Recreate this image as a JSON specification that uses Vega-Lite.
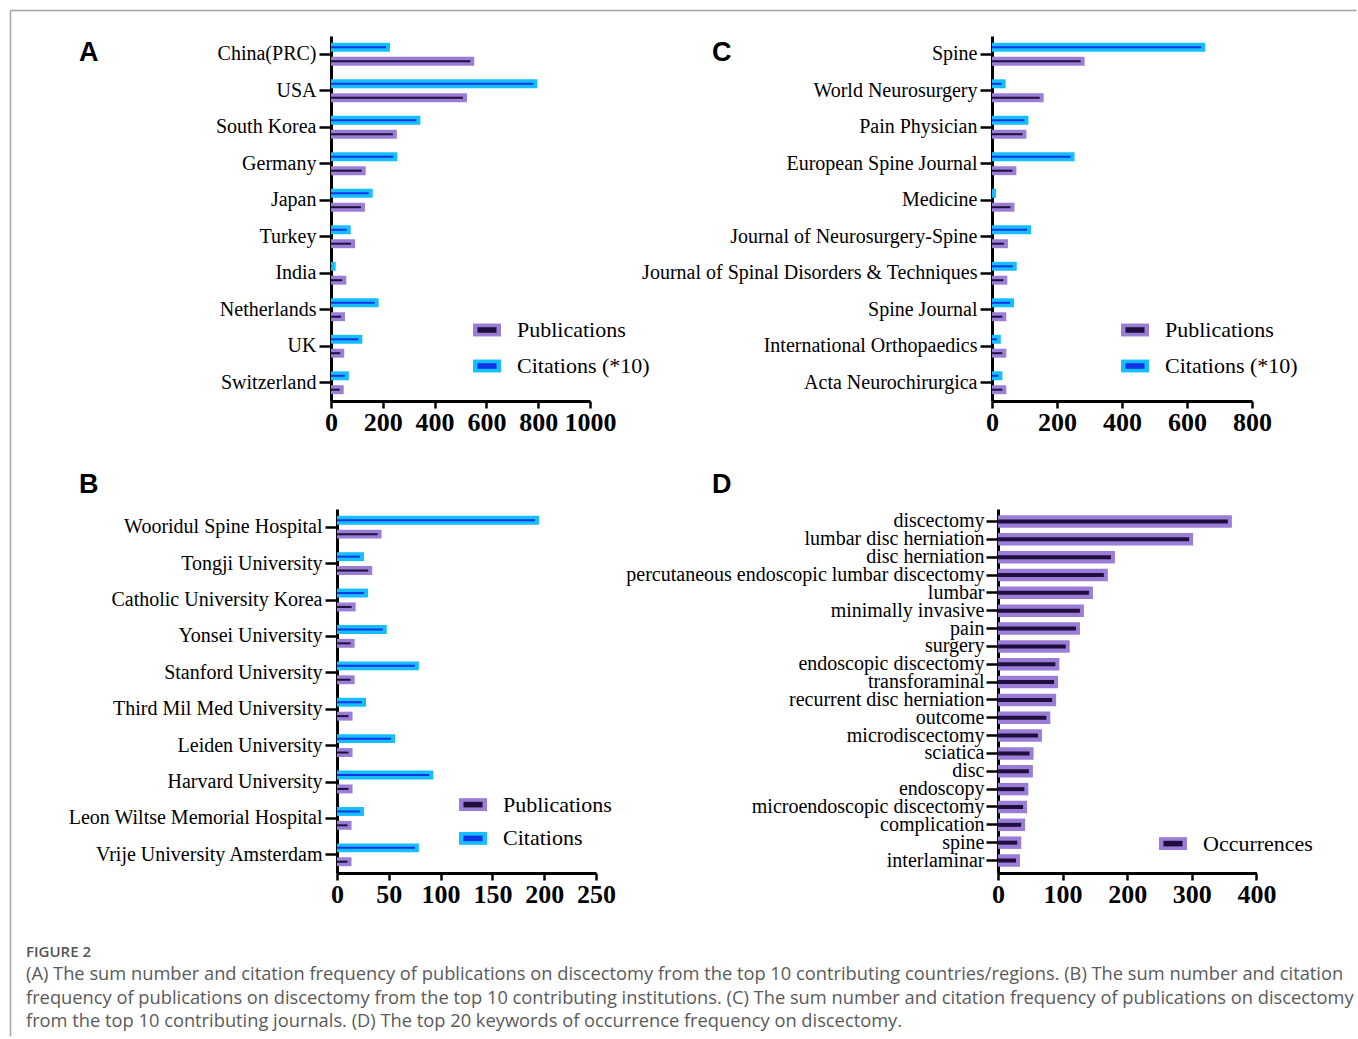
{
 "$schema": "https://vega.github.io/schema/vega-lite/v6.json",
 "padding": {"left": 10, "top": 10, "right": 0, "bottom": 0},
 "background": "white",
 "title": {"text": "FIGURE 2", "subtitle": ["(A) The sum number and citation frequency of publications on discectomy from the top 10 contributing countries/regions. (B) The sum number and citation", "frequency of publications on discectomy from the top 10 contributing institutions. (C) The sum number and citation frequency of publications on discectomy", "from the top 10 contributing journals. (D) The top 20 keywords of occurrence frequency on discectomy."], "orient": "bottom", "anchor": "start", "frame": "group", "dx": -305, "offset": -117, "font": "Open Sans", "fontSize": 15, "fontWeight": 600, "color": "#555555", "baseline": "top", "subtitleFont": "Open Sans", "subtitleFontSize": 18.3, "subtitleFontWeight": 400, "subtitleColor": "#5a5a5a", "subtitleLineHeight": 23.5, "subtitlePadding": 6},
 "datasets": {
  "countries": [
   {"cat": "China(PRC)", "series": "Publications", "value": 553}, {"cat": "China(PRC)", "series": "Citations (*10)", "value": 228},
   {"cat": "USA", "series": "Publications", "value": 525}, {"cat": "USA", "series": "Citations (*10)", "value": 797},
   {"cat": "South Korea", "series": "Publications", "value": 254}, {"cat": "South Korea", "series": "Citations (*10)", "value": 345},
   {"cat": "Germany", "series": "Publications", "value": 134}, {"cat": "Germany", "series": "Citations (*10)", "value": 256},
   {"cat": "Japan", "series": "Publications", "value": 131}, {"cat": "Japan", "series": "Citations (*10)", "value": 161},
   {"cat": "Turkey", "series": "Publications", "value": 93}, {"cat": "Turkey", "series": "Citations (*10)", "value": 76},
   {"cat": "India", "series": "Publications", "value": 59}, {"cat": "India", "series": "Citations (*10)", "value": 18},
   {"cat": "Netherlands", "series": "Publications", "value": 54}, {"cat": "Netherlands", "series": "Citations (*10)", "value": 184},
   {"cat": "UK", "series": "Publications", "value": 51}, {"cat": "UK", "series": "Citations (*10)", "value": 121},
   {"cat": "Switzerland", "series": "Publications", "value": 49}, {"cat": "Switzerland", "series": "Citations (*10)", "value": 69}
  ],
  "journals": [
   {"cat": "Spine", "series": "Publications", "value": 285}, {"cat": "Spine", "series": "Citations (*10)", "value": 656},
   {"cat": "World Neurosurgery", "series": "Publications", "value": 159}, {"cat": "World Neurosurgery", "series": "Citations (*10)", "value": 42},
   {"cat": "Pain Physician", "series": "Publications", "value": 106}, {"cat": "Pain Physician", "series": "Citations (*10)", "value": 112},
   {"cat": "European Spine Journal", "series": "Publications", "value": 75}, {"cat": "European Spine Journal", "series": "Citations (*10)", "value": 254},
   {"cat": "Medicine", "series": "Publications", "value": 69}, {"cat": "Medicine", "series": "Citations (*10)", "value": 12},
   {"cat": "Journal of Neurosurgery-Spine", "series": "Publications", "value": 49}, {"cat": "Journal of Neurosurgery-Spine", "series": "Citations (*10)", "value": 120},
   {"cat": "Journal of Spinal Disorders & Techniques", "series": "Publications", "value": 47}, {"cat": "Journal of Spinal Disorders & Techniques", "series": "Citations (*10)", "value": 76},
   {"cat": "Spine Journal", "series": "Publications", "value": 44}, {"cat": "Spine Journal", "series": "Citations (*10)", "value": 68},
   {"cat": "International Orthopaedics", "series": "Publications", "value": 44}, {"cat": "International Orthopaedics", "series": "Citations (*10)", "value": 27},
   {"cat": "Acta Neurochirurgica", "series": "Publications", "value": 44}, {"cat": "Acta Neurochirurgica", "series": "Citations (*10)", "value": 32}
  ],
  "institutions": [
   {"cat": "Wooridul Spine Hospital", "series": "Publications", "value": 43}, {"cat": "Wooridul Spine Hospital", "series": "Citations", "value": 195},
   {"cat": "Tongji University", "series": "Publications", "value": 34}, {"cat": "Tongji University", "series": "Citations", "value": 26},
   {"cat": "Catholic University Korea", "series": "Publications", "value": 18}, {"cat": "Catholic University Korea", "series": "Citations", "value": 30},
   {"cat": "Yonsei University", "series": "Publications", "value": 17}, {"cat": "Yonsei University", "series": "Citations", "value": 48},
   {"cat": "Stanford University", "series": "Publications", "value": 17}, {"cat": "Stanford University", "series": "Citations", "value": 79},
   {"cat": "Third Mil Med University", "series": "Publications", "value": 15}, {"cat": "Third Mil Med University", "series": "Citations", "value": 28},
   {"cat": "Leiden University", "series": "Publications", "value": 15}, {"cat": "Leiden University", "series": "Citations", "value": 56},
   {"cat": "Harvard University", "series": "Publications", "value": 15}, {"cat": "Harvard University", "series": "Citations", "value": 93},
   {"cat": "Leon Wiltse Memorial Hospital", "series": "Publications", "value": 14}, {"cat": "Leon Wiltse Memorial Hospital", "series": "Citations", "value": 26},
   {"cat": "Vrije University Amsterdam", "series": "Publications", "value": 14}, {"cat": "Vrije University Amsterdam", "series": "Citations", "value": 79}
  ],
  "keywords": [
   {"cat": "discectomy", "series": "Occurrences", "value": 362},
   {"cat": "lumbar disc herniation", "series": "Occurrences", "value": 302},
   {"cat": "disc herniation", "series": "Occurrences", "value": 181},
   {"cat": "percutaneous endoscopic lumbar discectomy", "series": "Occurrences", "value": 170},
   {"cat": "lumbar", "series": "Occurrences", "value": 147},
   {"cat": "minimally invasive", "series": "Occurrences", "value": 133},
   {"cat": "pain", "series": "Occurrences", "value": 127},
   {"cat": "surgery", "series": "Occurrences", "value": 111},
   {"cat": "endoscopic discectomy", "series": "Occurrences", "value": 95},
   {"cat": "transforaminal", "series": "Occurrences", "value": 93},
   {"cat": "recurrent disc herniation", "series": "Occurrences", "value": 90},
   {"cat": "outcome", "series": "Occurrences", "value": 81},
   {"cat": "microdiscectomy", "series": "Occurrences", "value": 68},
   {"cat": "sciatica", "series": "Occurrences", "value": 55},
   {"cat": "disc", "series": "Occurrences", "value": 54},
   {"cat": "endoscopy", "series": "Occurrences", "value": 47},
   {"cat": "microendoscopic discectomy", "series": "Occurrences", "value": 45},
   {"cat": "complication", "series": "Occurrences", "value": 42},
   {"cat": "spine", "series": "Occurrences", "value": 36},
   {"cat": "interlaminar", "series": "Occurrences", "value": 34}
  ]
 },
 "columns": 2,
 "spacing": {"row": 108, "column": 396},
 "bounds": "flush",
 "resolve": {"scale": {"x": "independent", "y": "independent", "color": "independent", "yOffset": "independent"}, "legend": {"color": "independent"}},
 "concat": [
  {
   "width": 259, "height": 365,
   "title": {"text": "A", "dx": -252, "dy": 60.5},
   "data": {"name": "countries"},
   "resolve": {"scale": {"x": "independent", "y": "independent"}},
   "layer": [
    {
     "encoding": {
      "y": {"field": "cat", "type": "nominal", "sort": null, "scale": {"paddingInner": 0, "paddingOuter": -0.04}, "axis": {"title": null}},
      "yOffset": {"field": "series", "type": "nominal", "sort": ["Citations (*10)", "Publications"], "scale": {"paddingInner": 0.357, "paddingOuter": 0.49}},
      "x": {"field": "value", "type": "quantitative", "stack": null, "scale": {"domain": [0, 1000], "nice": false}, "axis": {"title": null, "format": "d", "values": [0, 200, 400, 600, 800, 1000]}},
      "x2": {"datum": 0}
     },
     "resolve": {"scale": {"color": "independent"}, "legend": {"color": "independent"}},
     "layer": [
      {"mark": {"type": "bar"},
       "encoding": {"color": {"field": "series", "type": "nominal", "scale": {"domain": ["Publications", "Citations (*10)"], "range": ["#9b7dd7", "#14beff"]},
        "legend": {"orient": "none", "legendX": 142, "legendY": 280, "rowPadding": 11, "symbolType": "M-1,-0.46H1V0.46H-1Z"}}}},
      {"mark": {"type": "bar", "height": 2, "xOffset": -4},
       "encoding": {"color": {"field": "series", "type": "nominal", "scale": {"domain": ["Publications", "Citations (*10)"], "range": ["#1e0f3c", "#1432e6"]},
        "legend": {"orient": "none", "legendX": 142, "legendY": 280, "rowPadding": 11, "symbolType": "M-0.68,-0.2H0.68V0.2H-0.68Z", "labelExpr": "''"}}}}
     ]
    },
    {
     "data": {"values": []},
     "mark": {"type": "point"},
     "encoding": {
      "x": {"field": "bx", "type": "quantitative", "scale": {"domain": [0, 1], "range": [-321, 1025]}, "axis": {"orient": "top", "offset": 26, "ticks": false, "labels": false, "grid": false, "title": null, "domainColor": "#a3a3a3", "domainWidth": 1.5}},
      "y": {"field": "by", "type": "quantitative", "scale": {"domain": [0, 1], "range": [1000, -26]}, "axis": {"orient": "right", "offset": -580, "ticks": false, "labels": false, "grid": false, "title": null, "domainColor": "#a3a3a3", "domainWidth": 1.5}}
     }
    }
   ]
  },
  {
   "width": 260, "height": 365,
   "title": {"text": "C", "dx": -280, "dy": 34.5},
   "data": {"name": "journals"},
   "encoding": {
    "y": {"field": "cat", "type": "nominal", "sort": null, "scale": {"paddingInner": 0, "paddingOuter": -0.04}, "axis": {"title": null}},
    "yOffset": {"field": "series", "type": "nominal", "sort": ["Citations (*10)", "Publications"], "scale": {"paddingInner": 0.357, "paddingOuter": 0.49}},
    "x": {"field": "value", "type": "quantitative", "stack": null, "scale": {"domain": [0, 800], "nice": false}, "axis": {"title": null, "format": "d", "values": [0, 200, 400, 600, 800]}},
    "x2": {"datum": 0}
   },
   "resolve": {"scale": {"color": "independent"}, "legend": {"color": "independent"}},
   "layer": [
    {"mark": {"type": "bar"},
     "encoding": {"color": {"field": "series", "type": "nominal", "scale": {"domain": ["Publications", "Citations (*10)"], "range": ["#9b7dd7", "#14beff"]},
      "legend": {"orient": "none", "legendX": 129, "legendY": 280, "rowPadding": 11, "symbolType": "M-1,-0.46H1V0.46H-1Z"}}}},
    {"mark": {"type": "bar", "height": 2, "xOffset": -4},
     "encoding": {"color": {"field": "series", "type": "nominal", "scale": {"domain": ["Publications", "Citations (*10)"], "range": ["#1e0f3c", "#1432e6"]},
      "legend": {"orient": "none", "legendX": 129, "legendY": 280, "rowPadding": 11, "symbolType": "M-0.68,-0.2H0.68V0.2H-0.68Z", "labelExpr": "''"}}}}
   ]
  },
  {
   "width": 265, "height": 364,
   "title": {"text": "B", "dx": -252, "dy": -6},
   "data": {"name": "institutions"},
   "encoding": {
    "y": {"field": "cat", "type": "nominal", "sort": null, "scale": {"paddingInner": 0, "paddingOuter": -0.05}, "axis": {"title": null, "offset": -6}},
    "yOffset": {"field": "series", "type": "nominal", "sort": ["Citations", "Publications"], "scale": {"paddingInner": 0.357, "paddingOuter": 0.49}},
    "x": {"field": "value", "type": "quantitative", "stack": null, "scale": {"domain": [0, 250], "nice": false, "range": [6, 265]}, "axis": {"title": null, "format": "d", "values": [0, 50, 100, 150, 200, 250]}},
    "x2": {"datum": 0}
   },
   "resolve": {"scale": {"color": "independent"}, "legend": {"color": "independent"}},
   "layer": [
    {"mark": {"type": "bar"},
     "encoding": {"color": {"field": "series", "type": "nominal", "scale": {"domain": ["Publications", "Citations"], "range": ["#9b7dd7", "#14beff"]},
      "legend": {"orient": "none", "legendX": 128, "legendY": 281.6, "rowPadding": 8.8, "symbolType": "M-1,-0.46H1V0.46H-1Z"}}}},
    {"mark": {"type": "bar", "height": 2, "xOffset": -4},
     "encoding": {"color": {"field": "series", "type": "nominal", "scale": {"domain": ["Publications", "Citations"], "range": ["#1e0f3c", "#1432e6"]},
      "legend": {"orient": "none", "legendX": 128, "legendY": 281.6, "rowPadding": 8.8, "symbolType": "M-0.68,-0.2H0.68V0.2H-0.68Z", "labelExpr": "''"}}}}
   ]
  },
  {
   "width": 265, "height": 364,
   "title": {"text": "D", "dx": -280, "dy": -6},
   "data": {"name": "keywords"},
   "encoding": {
    "y": {"field": "cat", "type": "nominal", "sort": null, "scale": {"paddingInner": 0, "paddingOuter": 0.2}, "axis": {"title": null, "offset": -6, "labelPadding": 2}},
    "x": {"field": "value", "type": "quantitative", "stack": null, "scale": {"domain": [0, 400], "nice": false, "range": [6, 264.4]}, "axis": {"title": null, "format": "d", "values": [0, 100, 200, 300, 400]}},
    "x2": {"datum": 0}
   },
   "resolve": {"scale": {"color": "independent"}, "legend": {"color": "independent"}},
   "layer": [
    {"mark": {"type": "bar", "height": {"band": 0.7}},
     "encoding": {"color": {"field": "series", "type": "nominal", "scale": {"domain": ["Occurrences"], "range": ["#9b7dd7"]},
      "legend": {"orient": "none", "legendX": 167, "legendY": 320.6, "symbolType": "M-1,-0.46H1V0.46H-1Z"}}}},
    {"mark": {"type": "bar", "height": 4, "xOffset": -4},
     "encoding": {"color": {"field": "series", "type": "nominal", "scale": {"domain": ["Occurrences"], "range": ["#1e0f3c"]},
      "legend": {"orient": "none", "legendX": 167, "legendY": 320.6, "symbolType": "M-0.68,-0.2H0.68V0.2H-0.68Z", "labelExpr": "''"}}}}
   ]
  }
 ],
 "config": {
  "view": {"stroke": null},
  "font": "Liberation Serif",
  "axis": {"domainColor": "#000000", "domainWidth": 3, "tickColor": "#000000", "tickWidth": 2.5, "grid": false, "labelColor": "#000000", "labelFont": "Liberation Serif"},
  "axisY": {"labelFontSize": 20, "tickSize": 12, "labelPadding": 3, "labelLimit": 600},
  "axisX": {"labelFontSize": 26, "labelFontWeight": "bold", "tickSize": 7, "labelPadding": 1, "labelFlush": false, "labelOverlap": false},
  "title": {"font": "Liberation Sans", "fontSize": 27, "fontWeight": "bold", "anchor": "start", "frame": "group", "offset": 0, "baseline": "alphabetic", "color": "#000000"},
  "legend": {"title": null, "symbolSize": 784, "symbolStrokeWidth": 0, "symbolOpacity": 1, "labelFont": "Liberation Serif", "labelFontSize": 22, "labelColor": "#000000", "labelOffset": 16}
 }
}
